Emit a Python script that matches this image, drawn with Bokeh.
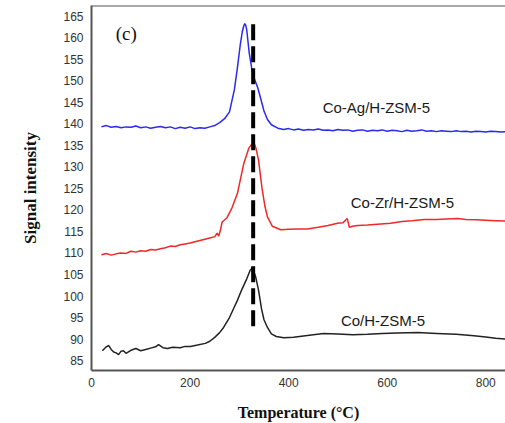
from bokeh.plotting import figure
from bokeh.models import Span, FixedTicker, Range1d
from bokeh.core.properties import value
from bokeh.embed import file_html
from bokeh.resources import INLINE

# ---- data ----
ag_x = [20, 30, 40, 50, 60, 70, 80, 90, 100, 110, 120, 130, 140, 150, 160, 170, 180, 190, 200, 210,
        220, 230, 240, 250, 260, 270, 280, 290, 296, 302, 306, 309, 311, 313, 315, 320, 325, 330, 337,
        343, 350, 357, 365, 378, 390, 400, 410, 420, 430, 440, 450, 460, 470, 480, 490, 500, 510, 520,
        530, 540, 550, 560, 570, 580, 590, 600, 610, 620, 630, 640, 650, 660, 670, 680, 690, 700, 710,
        720, 730, 740, 750, 760, 770, 780, 790, 800, 810, 820, 830, 840]
ag_y = [139.3, 139.6, 139.2, 139.4, 139.1, 139.3, 139.2, 139.5, 139.1, 139.3, 139.0, 139.2, 139.4, 139.1,
        139.3, 138.9, 139.2, 139.0, 139.3, 138.9, 139.1, 139.0, 139.3, 139.6, 140.3, 141.2, 142.8, 148.0,
        153.0, 158.5, 161.4, 162.8, 163.3, 162.9, 161.8, 156.5, 153.0, 150.6, 148.5, 146.0, 143.0, 141.0,
        139.8, 139.0, 138.7, 138.9, 138.6, 138.8, 138.5, 138.7, 138.6, 138.8, 138.5, 138.6, 138.4, 138.7,
        138.5, 138.6, 138.3, 138.5, 138.6, 138.3, 138.5, 138.4, 138.6, 138.3, 138.5, 138.4, 138.2, 138.5,
        138.3, 138.4, 138.6, 138.3, 138.4, 138.2, 138.4, 138.3, 138.2, 138.4, 138.2, 138.3, 138.1, 138.3,
        138.2, 138.1, 138.3, 138.2, 138.1, 138.2]

zr_x = [20, 30, 40, 50, 60, 70, 80, 90, 100, 110, 120, 130, 140, 150, 160, 170, 180, 190, 200, 210, 220,
        230, 240, 250, 255, 258, 262, 265, 275, 285, 296, 309, 319, 325, 328, 331, 334, 339, 346, 352, 357,
        367, 384, 400, 420, 438, 460, 480, 499, 510, 519, 523, 530, 540, 560, 580, 607, 630, 650, 675, 700,
        720, 743, 760, 780, 800, 820, 840]
zr_y = [109.6, 109.9, 109.5, 109.8, 110.0, 109.9, 110.4, 110.2, 110.5, 110.4, 110.8, 110.7, 111.0, 111.2,
        111.6, 111.5, 111.9, 112.1, 112.3, 112.6, 112.9, 113.2, 113.5, 113.8, 114.6, 113.9, 115.5, 117.2,
        118.2, 120.5, 123.8, 130.8, 134.3, 135.3, 135.5, 135.2, 134.2, 131.5, 125.0, 120.8, 118.4, 116.2,
        115.4, 115.5, 115.6, 115.6, 116.0, 116.4, 116.9, 117.0, 118.0, 116.0, 116.2, 116.4, 116.5, 116.7,
        116.9, 117.3, 117.5, 117.8, 117.8, 117.9, 118.0, 117.8, 117.7, 117.6, 117.5, 117.4]

co_x = [22, 30, 35, 40, 45, 50, 55, 60, 65, 70, 80, 90, 100, 110, 120, 130, 136, 145, 154, 165, 180, 190,
        201, 215, 231, 240, 250, 260, 268, 280, 290, 296, 305, 315, 322, 327, 333, 339, 345, 350, 357,
        365, 375, 390, 410, 430, 450, 471, 500, 530, 560, 590, 620, 662, 700, 740, 776, 800, 820, 840]
co_y = [87.3, 88.2, 88.5, 87.6, 87.0, 86.8, 86.4, 87.2, 87.3, 86.7, 87.4, 87.8, 87.3, 87.6, 87.9, 88.2,
        88.7, 88.0, 87.8, 88.1, 88.0, 88.3, 88.3, 88.6, 89.0, 89.5, 90.4, 91.5, 92.7, 95.0, 97.5, 99.0,
        101.5, 104.0, 106.0, 106.6, 104.5, 101.3, 97.0, 94.5, 92.7, 91.2, 90.6, 90.3, 90.4, 90.7, 91.0,
        91.3, 91.2, 91.0, 91.1, 91.3, 91.4, 91.5, 91.3, 91.1, 90.8, 90.5, 90.2, 90.0]

peak_x = [328, 328]
peak_y = [93, 164]

label_x = [469, 526, 506]
label_y = [143.8, 121.7, 94.3]
label_text = ["Co-Ag/H-ZSM-5", "Co-Zr/H-ZSM-5", "Co/H-ZSM-5"]

panel_x = [49]
panel_y = [161]
panel_text = ["(c)"]

y_ticks = list(range(85, 170, 5))
x_ticks = [0, 200, 400, 600, 800]

Y_END = 167.5

# ---- figure ----
p = figure(width=505, height=423, output_backend="svg", toolbar_location=None,
           x_range=Range1d(0, 840), y_range=Range1d(82.7, Y_END),
           min_border_left=91, min_border_right=0, min_border_top=5, min_border_bottom=53)
p.background_fill_color = "white"
p.border_fill_color = "white"
p.outline_line_color = None
p.xgrid.visible = False
p.ygrid.visible = False

p.line(ag_x, ag_y, line_color="#2a2af0", line_width=1.5)
p.line(zr_x, zr_y, line_color="#f02828", line_width=1.5)
p.line(co_x, co_y, line_color="#222222", line_width=1.5)
p.line(peak_x, peak_y, line_color="black", line_width=4, line_dash="16 6")

p.text(label_x, label_y, text=label_text, text_font=value("Liberation Sans"),
       text_font_size="15px", text_color="#1a1a1a", text_baseline="middle", text_align="left")
p.text(panel_x, panel_y, text=panel_text, text_font=value("Liberation Serif"),
       text_font_size="19px", text_color="#111111", text_baseline="middle", text_align="left")

top = Span(location=Y_END, dimension="width", line_color="#555555", line_width=2)
p.add_layout(top)

for ax in (p.xaxis[0], p.yaxis[0]):
    ax.axis_line_color = "#555555"
    ax.axis_line_width = 2
    ax.major_tick_line_color = None
    ax.minor_tick_line_color = None
    ax.major_tick_in = 0
    ax.major_tick_out = 0
    ax.minor_tick_out = 0
    ax.major_label_text_font = "Liberation Sans"
    ax.major_label_text_font_size = "12px"
    ax.major_label_text_color = "#333333"
    ax.axis_label_text_font = "Liberation Serif"
    ax.axis_label_text_font_style = "bold"
    ax.axis_label_text_font_size = "16px"
    ax.axis_label_text_color = "#111111"

p.xaxis[0].ticker = FixedTicker(ticks=x_ticks)
p.yaxis[0].ticker = FixedTicker(ticks=y_ticks)
p.xaxis[0].axis_label = "Temperature (°C)"
p.yaxis[0].axis_label = "Signal intensity"
p.yaxis[0].axis_label_text_font_size = "17px"
p.xaxis[0].major_label_standoff = 7
p.xaxis[0].axis_label_standoff = 14
p.yaxis[0].major_label_standoff = 8
p.yaxis[0].axis_label_standoff = 20

open("out.html", "w").write(file_html(p, INLINE))
